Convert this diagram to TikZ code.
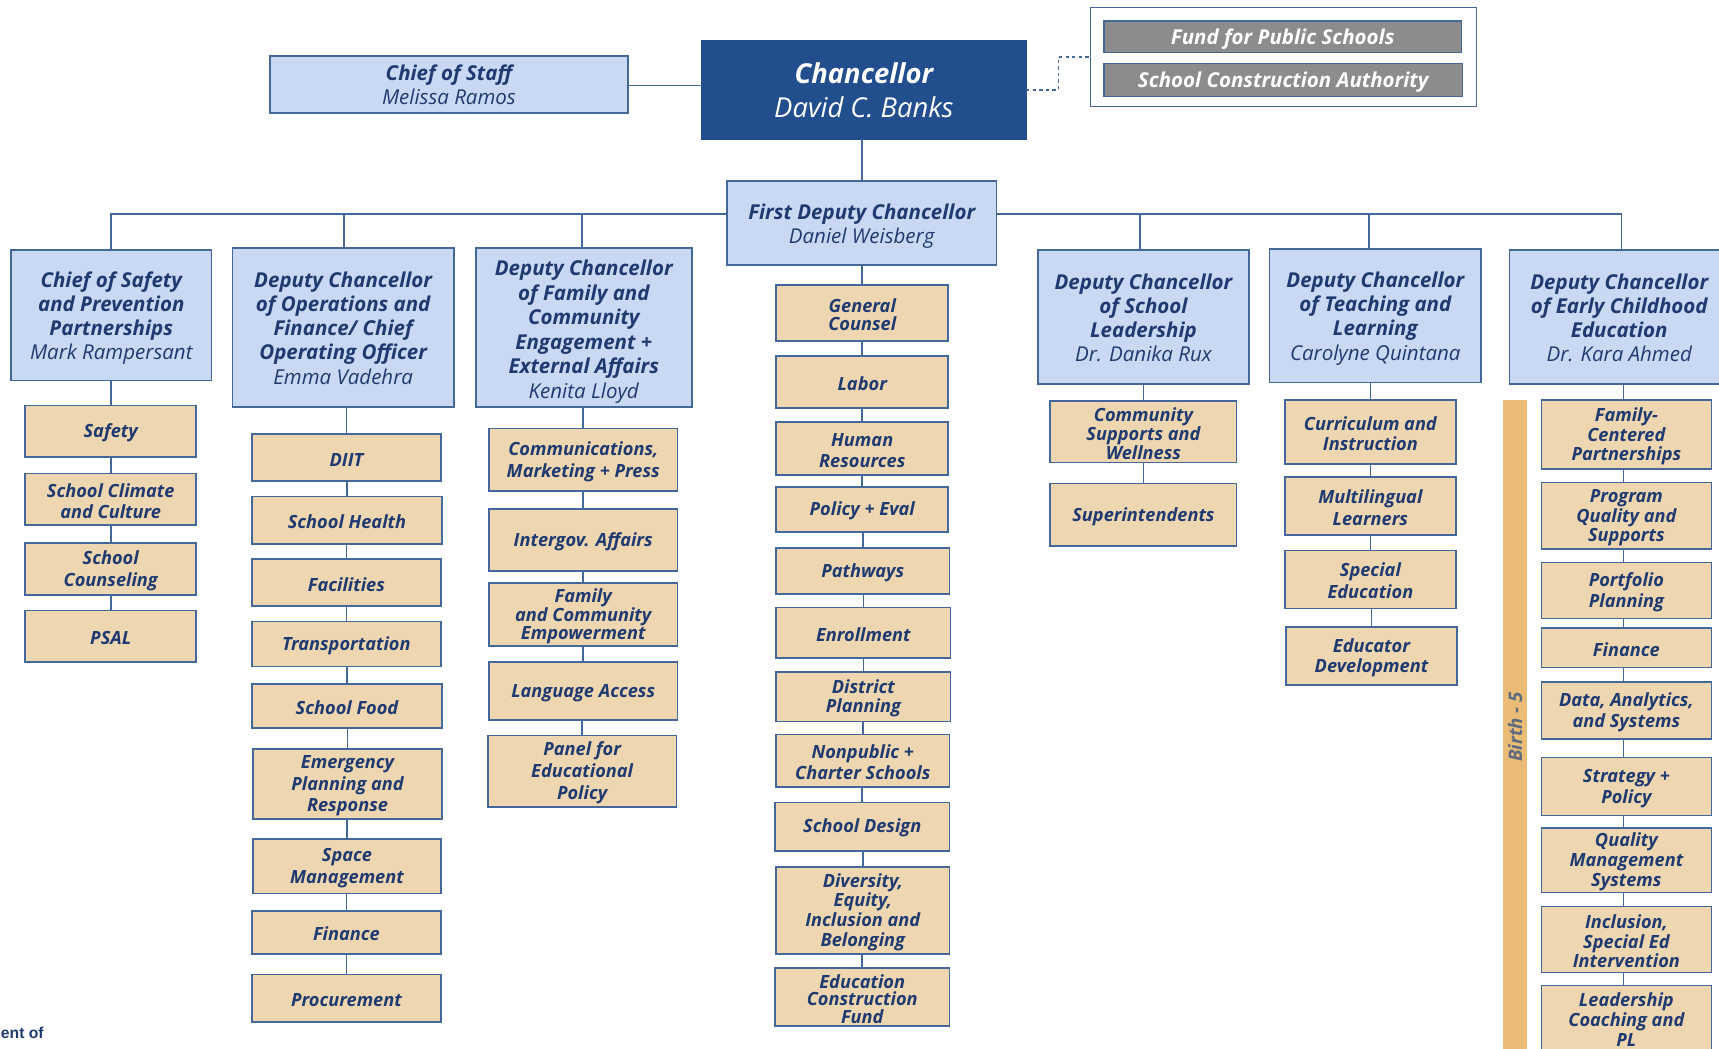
\documentclass[tikz,border=0pt]{standalone}
\usepackage{fontspec}
\setmainfont{Open Sans}
\newfontfamily\arialbold{Liberation Sans}
\usetikzlibrary{calc}
\definecolor{ink}{HTML}{1F3A70}
\definecolor{edge}{HTML}{44689A}
\definecolor{lblue}{HTML}{C9D8F3}
\definecolor{tan}{HTML}{EED6B1}
\definecolor{navy}{HTML}{224E8E}
\definecolor{greybox}{HTML}{8C8C8C}
\definecolor{barcol}{HTML}{EBBC76}
\definecolor{bartxt}{HTML}{5F6B7E}
\newcommand\topr{.8em}
\newcommand\orgbox[7]{%
  \pgfmathsetmacro\cxx{(#2+#4)/2}%
  \pgfmathsetmacro\cyy{(#3+#5)/2}%
  \node[basebox,#6,minimum width={(#4-#2)*1pt},minimum height={(#5-#3)*1pt}] (#1) at (\cxx,\cyy) {\rule{0pt}{\topr}#7};%
}
\newcommand\lnk[2]{\draw[conn] (#2.north |- #1.south) -- (#2.north);}
\newcommand\lnkg[2]{\draw[conn] ($(#2.north |- #1.south)+(-2.5,0)$) -- ($(#2.north)+(-2.5,0)$);}
\newcommand\nm[1]{{\mdseries #1}}
\tikzset{
  basebox/.style={draw=edge,line width=1.5pt,inner sep=0pt,outer sep=0pt,align=center,text=ink},
  head/.style={fill=lblue,font=\bfseries\itshape\fontsize{18.7}{22}\selectfont\def\topr{#1}},
  head/.default=1.03em,
  unit/.style={fill=tan,font=\bfseries\itshape\fontsize{16.6}{#1}\selectfont\def\topr{.94em}},
  unit/.default=19,
  grey/.style={fill=greybox,text=white,font=\bfseries\itshape\fontsize{18.7}{20}\selectfont\def\topr{1em}},
  conn/.style={draw=edge,line width=1.5pt},
}
\begin{document}
\begin{tikzpicture}[x=1pt,y=-1pt]
\clip (0,0) rectangle (1568,956);
\fill[white] (0,0) rectangle (1568,956);
% top
\orgbox{cos}{246}{51}{573}{103}{head=.76em}{Chief of Staff\\\nm{Melissa Ramos}}
\orgbox{chan}{640}{37}{936}{127}{fill=navy,draw=navy,text=white,font=\bfseries\itshape\fontsize{25}{31}\selectfont\def\topr{.76em}}{Chancellor\\\nm{David C. Banks}}
\orgbox{outer}{995}{7}{1347}{97}{fill=white,line width=1.1pt}{}
\orgbox{fund}{1007}{19}{1333}{48}{grey}{Fund for Public Schools}
\orgbox{sca}{1007}{58}{1334}{88}{grey}{School Construction Authority}
\orgbox{fd}{663}{165}{909}{242}{head}{First Deputy Chancellor\\\nm{Daniel Weisberg}}
\draw[conn] (cos.east |- 0,78) -- (chan.west |- 0,78);
\draw[conn,dashed] (chan.east) -| ($(chan.east)!.5!(outer.west)$) |- (outer.west);
\draw[conn] (chan.south -| fd.north) -- (fd.north);
% heads
\orgbox{hsafe}{10}{228}{193}{347}{head}{Chief of Safety\\and Prevention\\Partnerships\\\nm{Mark Rampersant}}
\orgbox{hops}{212}{226}{414}{371}{head=.85em}{Deputy Chancellor\\of Operations and\\Finance/ Chief\\Operating Officer\\\nm{Emma Vadehra}}
\orgbox{hfam}{434}{226}{631}{371}{head=1.2em,font=\bfseries\itshape\fontsize{18.7}{22.4}\selectfont\def\topr{1.2em}}{Deputy Chancellor\\of Family and\\Community\\Engagement +\\External Affairs\\\nm{Kenita Lloyd}}
\orgbox{hsch}{947}{228}{1139}{350}{head=.85em}{Deputy Chancellor\\of School\\Leadership\\\nm{Dr. Danika Rux}}
\orgbox{htea}{1158}{227}{1351}{349}{head}{Deputy Chancellor\\of Teaching and\\Learning\\\nm{Carolyne Quintana}}
\orgbox{hear}{1377}{228}{1577}{350}{head=.85em}{Deputy Chancellor\\of Early Childhood\\Education\\\nm{Dr. Kara Ahmed}}
\coordinate (busl) at (663,195);
\coordinate (busr) at (909,195);
\draw[conn] (hsafe.north) |- (busl);
\draw[conn] ($(hops.north)+(1,0)$) -- ($(hops.north |- busl)+(1,0)$);
\draw[conn] ($(hfam.north)+(-1.5,0)$) -- ($(hfam.north |- busl)+(-1.5,0)$);
\draw[conn] ($(hear.north)+(2,0)$) |- (busr);
\draw[conn] ($(hsch.north)+(-3,0)$) -- ($(hsch.north |- busr)+(-3,0)$);
\draw[conn] ($(htea.north)+(-5.5,0)$) -- ($(htea.north |- busr)+(-5.5,0)$);
% column 1
\orgbox{a1}{23}{370}{179}{417}{unit}{Safety}
\orgbox{a2}{23}{432}{179}{479}{unit}{School Climate\\and Culture}
\orgbox{a3}{23}{495}{179}{543}{unit=20}{School\\Counseling}
\orgbox{a4}{23}{557}{179}{604}{unit}{PSAL}
\lnk{hsafe}{a1}\lnk{a1}{a2}\lnk{a2}{a3}\lnk{a3}{a4}
% column 2
\orgbox{b1}{230}{396}{402}{439}{unit}{DIIT}
\orgbox{b2}{230}{453}{403}{496}{unit}{School Health}
\orgbox{b3}{230}{510}{402}{553}{unit}{Facilities}
\orgbox{b4}{230}{567}{402}{608}{unit}{Transportation}
\orgbox{b5}{230}{624}{403}{664}{unit}{School Food}
\orgbox{b6}{231}{683}{403}{747}{unit=19.5}{Emergency\\Planning and\\Response}
\orgbox{b7}{231}{765}{402}{815}{unit=20}{Space\\Management}
\orgbox{b8}{230}{831}{402}{870}{unit}{Finance}
\orgbox{b9}{230}{889}{402}{932}{unit}{Procurement}
\lnk{hops}{b1}\lnk{b1}{b2}\lnk{b2}{b3}\lnk{b3}{b4}\lnk{b4}{b5}\lnk{b5}{b6}\lnk{b6}{b7}\lnk{b7}{b8}\lnk{b8}{b9}
% column 3
\orgbox{c1}{446}{391}{618}{448}{unit=20}{Communications,\\Marketing + Press}
\orgbox{c2}{446}{464}{618}{521}{unit}{Intergov. Affairs}
\orgbox{c3}{446}{532}{618}{589}{unit=16}{Family\\and Community\\Empowerment}
\orgbox{c4}{446}{604}{618}{657}{unit}{Language Access}
\orgbox{c5}{445}{671}{617}{736}{unit=20}{Panel for\\Educational\\Policy}
\lnk{hfam}{c1}\lnk{c1}{c2}\lnk{c2}{c3}\lnk{c3}{c4}\lnk{c4}{c5}
% centre
\orgbox{d1}{708}{260}{865}{311}{unit=17}{General\\Counsel}
\orgbox{d2}{708}{325}{865}{372}{unit}{Labor}
\orgbox{d3}{708}{385}{865}{433}{unit}{Human\\Resources}
\orgbox{d4}{708}{444}{865}{485}{unit}{Policy + Eval}
\orgbox{d5}{708}{500}{866}{542}{unit}{Pathways}
\orgbox{d6}{708}{554}{867}{600}{unit}{Enrollment}
\orgbox{d7}{708}{613}{867}{658}{unit=18}{District\\Planning}
\orgbox{d8}{708}{670}{866}{718}{unit}{Nonpublic +\\Charter Schools}
\orgbox{d9}{707}{732}{866}{776}{unit}{School Design}
\orgbox{d10}{708}{791}{866}{870}{unit=18}{Diversity,\\Equity,\\Inclusion and\\Belonging}
\orgbox{d11}{707}{883}{866}{936}{unit=16}{Education\\Construction\\Fund}
\lnk{fd}{d1}\lnk{d1}{d2}\lnk{d2}{d3}\lnk{d3}{d4}\lnk{d4}{d5}\lnk{d5}{d6}\lnk{d6}{d7}\lnk{d7}{d8}\lnk{d8}{d9}\lnk{d9}{d10}\lnk{d10}{d11}
% school leadership
\orgbox{e1}{958}{366}{1128}{422}{unit=15}{Community\\Supports and\\Wellness}
\orgbox{e2}{958}{441}{1128}{498}{unit}{Superintendents}
\lnk{hsch}{e1}\lnk{e1}{e2}
% teaching
\orgbox{f1}{1172}{365}{1328}{423}{unit}{Curriculum and\\Instruction}
\orgbox{f2}{1172}{435}{1328}{488}{unit=20}{Multilingual\\Learners}
\orgbox{f3}{1172}{502}{1328}{555}{unit=20}{Special\\Education}
\orgbox{f4}{1173}{572}{1329}{625}{unit}{Educator\\Development}
\lnk{htea}{f1}\lnk{f1}{f2}\lnk{f2}{f3}\lnk{f3}{f4}
% early childhood
\fill[barcol] (1371,365) rectangle (1393,960);
\node[rotate=90,text=bartxt,font=\bfseries\itshape\fontsize{17}{20}\selectfont,inner sep=0pt] (birth) at (1382,663) {Birth - 5};
\orgbox{g1}{1406}{365}{1561}{428}{unit=18}{Family-\\Centered\\Partnerships}
\orgbox{g2}{1406}{440}{1561}{501}{unit=18}{Program\\Quality and\\Supports}
\orgbox{g3}{1406}{513}{1561}{564}{unit}{Portfolio\\Planning}
\orgbox{g4}{1406}{573}{1561}{609}{unit}{Finance}
\orgbox{g5}{1406}{622}{1561}{674}{unit}{Data, Analytics,\\and Systems}
\orgbox{g6}{1406}{691}{1561}{744}{unit}{Strategy +\\Policy}
\orgbox{g7}{1406}{755}{1561}{814}{unit=18}{Quality\\Management\\Systems}
\orgbox{g8}{1406}{827}{1561}{887}{unit=18}{Inclusion,\\Special Ed\\Intervention}
\orgbox{g9}{1406}{899}{1561}{958}{unit=18}{Leadership\\Coaching and\\PL}
\lnkg{hear}{g1}\lnkg{g1}{g2}\lnkg{g2}{g3}\lnkg{g3}{g4}\lnkg{g4}{g5}\lnkg{g5}{g6}\lnkg{g6}{g7}\lnkg{g7}{g8}\lnkg{g8}{g9}
% fragment at the edge
\node[anchor=east,inner sep=0pt,text=ink,font=\arialbold\bfseries\fontsize{14.3}{17}\selectfont] (frag) at (40,942) {ent of};
\end{tikzpicture}
\end{document}
